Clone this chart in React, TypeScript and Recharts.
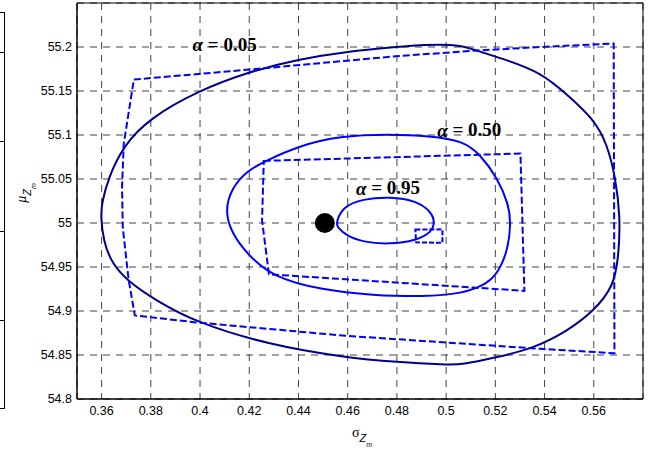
import React from 'react';
import { ScatterChart, Scatter, XAxis, YAxis, CartesianGrid, ReferenceArea } from 'recharts';

const xTicks = [0.36, 0.38, 0.4, 0.42, 0.44, 0.46, 0.48, 0.5, 0.52, 0.54, 0.56];
const yTicks = [54.8, 54.85, 54.9, 54.95, 55, 55.05, 55.1, 55.15, 55.2];

// alpha = 0.05, exact region (solid) and interval box (dashed)
const sigma05 = [0.3597, 0.36, 0.3628, 0.369, 0.379, 0.399, 0.42, 0.44, 0.46, 0.48, 0.491, 0.506,
  0.512, 0.525, 0.5384, 0.5492, 0.56, 0.5654, 0.5688, 0.5708, 0.5701, 0.5681, 0.56, 0.5492,
  0.535, 0.52, 0.5064, 0.4999, 0.48, 0.4593, 0.4274, 0.3984, 0.3821, 0.371, 0.3641, 0.3607];
const mu05 = [55.007, 55.022, 55.052, 55.088, 55.118, 55.15, 55.172, 55.186, 55.195, 55.2, 55.2026, 55.2026,
  55.196, 55.185, 55.171, 55.146, 55.118, 55.09, 55.052, 55.007, 54.962, 54.928, 54.9, 54.877,
  54.857, 54.847, 54.839, 54.839, 54.842, 54.847, 54.862, 54.887, 54.912, 54.933, 54.954, 54.98];
const sigma05Box = [0.3731, 0.4202, 0.4796, 0.5122, 0.5384, 0.5681, 0.5684, 0.5384, 0.4593, 0.3986,
  0.3735, 0.371, 0.3686, 0.3683, 0.369];
const mu05Box = [55.163, 55.1744, 55.1895, 55.1959, 55.2, 55.204, 54.852, 54.857, 54.8718, 54.887,
  54.895, 54.935, 54.995, 55.041, 55.09];

// alpha = 0.50
const sigma50 = [0.41, 0.413, 0.4191, 0.4266, 0.4402, 0.4566, 0.477, 0.4934, 0.507, 0.5138, 0.5207,
  0.5254, 0.5264, 0.5248, 0.52, 0.5152, 0.507, 0.4907, 0.4702, 0.4498, 0.4293, 0.4191, 0.413];
const mu50 = [55.014, 55.0405, 55.0593, 55.0706, 55.0876, 55.0989, 55.1008, 55.0989, 55.0932, 55.078, 55.0518,
  55.0216, 54.999, 54.965, 54.9387, 54.9293, 54.92, 54.916, 54.918, 54.9236, 54.9387, 54.965, 54.9877];
const sigma50Box = [0.4259, 0.5302, 0.5318, 0.428, 0.4252];
const mu50Box = [55.0706, 55.0789, 54.9229, 54.9417, 55.0028];

// alpha = 0.95
const sigma95 = [0.4552, 0.458, 0.4661, 0.477, 0.488, 0.4941, 0.4954, 0.4941, 0.488, 0.477, 0.4661,
  0.4593, 0.4559];
const mu95 = [55.0, 55.0186, 55.0273, 55.0299, 55.0254, 55.0122, 55.0009, 54.9896, 54.9802, 54.9757, 54.9783,
  54.9858, 54.9952];
const sigma95Box = [0.4875, 0.4985, 0.4985, 0.4878];
const mu95Box = [54.9925, 54.9928, 54.9775, 54.978];

// true parameter point
const trueSigma = [0.4507];
const trueMu = [55.0];

const alphaText = ['0.05', '0.50', '0.95'];
const alphaSigma = [0.41, 0.5094, 0.4764];
const alphaMu = [55.203, 55.106, 55.04];

const SANS = '"Liberation Sans", Arial, Helvetica, sans-serif';
const SERIF = '"Liberation Serif", "Times New Roman", Times, serif';
const NAVY = '#00008b';
const BLUE = '#0000ff';

const toPoints = (xs: number[], ys: number[]) => xs.map((x, i) => ({ x, y: ys[i] }));

const fmt = (v: number) => String(parseFloat(v.toFixed(2)));

const noDot = () => <g />;

const AlphaLabel = (p: any) => (
  <text x={p.cx} y={p.cy} textAnchor="middle" dominantBaseline="central"
    fontFamily={SERIF} fontWeight="bold" fontSize={19} fill="#000">
    <tspan fontStyle="italic">α</tspan>
    {` = ${p.payload.label}`}
  </text>
);

const XLabel = (props: any) => {
  const vb = props.viewBox;
  const cx = vb.x + vb.width / 2;
  return (
    <text x={cx - 8} y={vb.y + 38} fontFamily={SERIF} fill="#000">
      <tspan fontSize={14}>σ</tspan>
      <tspan fontSize={11} fontStyle="italic" fontFamily={SANS} dy={5}>Z</tspan>
      <tspan fontSize={7} fontStyle="italic" fontFamily={SANS} dy={5}>m</tspan>
    </text>
  );
};

const YLabel = (props: any) => {
  const vb = props.viewBox;
  const cx = vb.x + 26;
  const cy = vb.y + vb.height / 2 - 8;
  return (
    <text x={cx} y={cy} transform={`rotate(-90, ${cx}, ${cy})`} textAnchor="middle"
      fontFamily={SERIF} fill="#000">
      <tspan fontSize={14} fontStyle="italic">μ</tspan>
      <tspan fontSize={11} fontStyle="italic" fontFamily={SANS} dy={5}>Z</tspan>
      <tspan fontSize={7} fontStyle="italic" fontFamily={SANS} dy={5}>m</tspan>
    </text>
  );
};

const sideTicks = [12, 52, 141, 231, 320, 408];

export default function App() {
  const labels = alphaText.map((label, i) => ({ x: alphaSigma[i], y: alphaMu[i], label }));
  const center = toPoints(trueSigma, trueMu);
  const solid = { strokeWidth: 2 };
  const dashed = { stroke: BLUE, strokeWidth: 2, strokeDasharray: '7 3' };
  const tick = { fill: '#000', fontSize: 12.5, fontFamily: SANS };

  return (
    <div style={{ position: 'absolute', left: 0, top: 0, width: 648, height: 452, background: '#fff' }}>
      {/* edge of the neighbouring panel */}
      <div style={{ position: 'absolute', left: 4, top: 12, width: 1, height: 397, background: '#000' }} />
      {sideTicks.map((t) => (
        <div key={t} style={{ position: 'absolute', left: 0, top: t, width: 5, height: 1, background: '#000' }} />
      ))}

      <ScatterChart width={648} height={452} margin={{ top: 3, right: 5, left: 0, bottom: 0 }}>
        <CartesianGrid stroke="#444" strokeDasharray="7 6" />
        <XAxis type="number" dataKey="x" domain={[0.35, 0.58]} ticks={xTicks} interval={0}
          tickFormatter={fmt} tickSize={0} tickMargin={7} height={53} allowDataOverflow
          axisLine={{ stroke: '#000' }} tick={tick} label={XLabel} />
        <YAxis type="number" dataKey="y" domain={[54.8, 55.25]} ticks={yTicks} interval={0}
          tickFormatter={fmt} tickSize={0} tickMargin={5} width={77} allowDataOverflow
          axisLine={{ stroke: '#000' }} tick={tick} label={YLabel} />
        <ReferenceArea x1={0.35} x2={0.58} y1={54.8} y2={55.25} stroke="#000" strokeWidth={1}
          fill="none" fillOpacity={0} />

        <Scatter data={toPoints(sigma05, mu05)} fill={NAVY} line={{ ...solid, stroke: NAVY }}
          lineType="joint" lineJointType="basisClosed" shape={noDot} isAnimationActive={false} />
        <Scatter data={toPoints(sigma05Box, mu05Box)} fill={BLUE} line={dashed}
          lineType="joint" lineJointType="linearClosed" shape={noDot} isAnimationActive={false} />
        <Scatter data={toPoints(sigma50, mu50)} fill={BLUE} line={{ ...solid, stroke: BLUE }}
          lineType="joint" lineJointType="basisClosed" shape={noDot} isAnimationActive={false} />
        <Scatter data={toPoints(sigma50Box, mu50Box)} fill={BLUE} line={dashed}
          lineType="joint" lineJointType="linearClosed" shape={noDot} isAnimationActive={false} />
        <Scatter data={toPoints(sigma95, mu95)} fill={BLUE} line={{ ...solid, stroke: BLUE }}
          lineType="joint" lineJointType="basisClosed" shape={noDot} isAnimationActive={false} />
        <Scatter data={toPoints(sigma95Box, mu95Box)} fill={BLUE}
          line={{ ...dashed, strokeDasharray: '5 2' }}
          lineType="joint" lineJointType="linearClosed" shape={noDot} isAnimationActive={false} />

        <Scatter data={center} fill="#000" isAnimationActive={false}
          shape={(p: any) => <circle cx={p.cx} cy={p.cy} r={10} fill="#000" />} />
        <Scatter data={labels} fill="#000" isAnimationActive={false} shape={AlphaLabel} />
      </ScatterChart>
    </div>
  );
}
